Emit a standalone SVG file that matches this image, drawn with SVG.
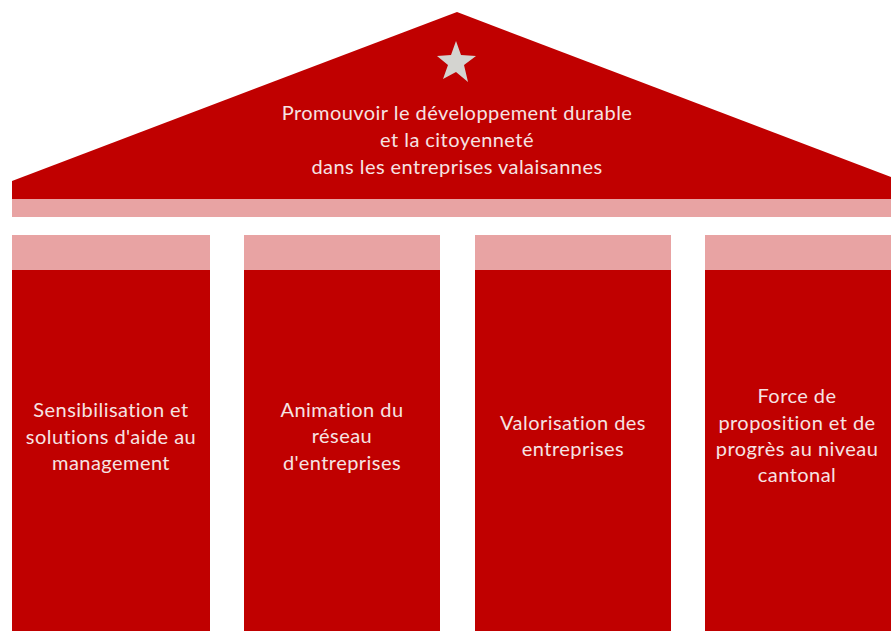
<svg xmlns="http://www.w3.org/2000/svg" width="891" height="631" viewBox="0 0 891 631">
<style>
.red{fill:#C00000}
.light{fill:#E8A3A3}
.t{font-family:Lato,"Open Sans",sans-serif;font-size:20px;letter-spacing:0.45px;fill:#F6E3E3;text-anchor:middle}
</style>
<rect width="891" height="631" fill="#FFFFFF"/>
<g id="roof">
<polygon class="red" points="12,181 457,12 891,177 891,199 12,199"/>
<rect class="light" x="12" y="199" width="879" height="18"/>
<polygon fill="#D4D4D0" points="456,41 461,55 476,56 464,65 468,82 456,72 443,79 448,65 437,56 451,55"/>
<text class="t"><tspan x="457" y="120">Promouvoir le développement durable</tspan><tspan x="457" y="147">et la citoyenneté</tspan><tspan x="457" y="174">dans les entreprises valaisannes</tspan></text>
</g>
<g id="pillar1">
<rect class="light" x="12" y="235" width="198" height="35"/>
<rect class="red" x="12" y="270" width="198" height="361"/>
<text class="t"><tspan x="111" y="417">Sensibilisation et</tspan><tspan x="111" y="444">solutions d'aide au</tspan><tspan x="111" y="470">management</tspan></text>
</g>
<g id="pillar2">
<rect class="light" x="244" y="235" width="196" height="35"/>
<rect class="red" x="244" y="270" width="196" height="361"/>
<text class="t"><tspan x="342" y="417">Animation du</tspan><tspan x="342" y="443">réseau</tspan><tspan x="342" y="470">d'entreprises</tspan></text>
</g>
<g id="pillar3">
<rect class="light" x="475" y="235" width="196" height="35"/>
<rect class="red" x="475" y="270" width="196" height="361"/>
<text class="t"><tspan x="573" y="430">Valorisation des</tspan><tspan x="573" y="456">entreprises</tspan></text>
</g>
<g id="pillar4">
<rect class="light" x="705" y="235" width="186" height="35"/>
<rect class="red" x="705" y="270" width="186" height="361"/>
<text class="t"><tspan x="797" y="403">Force de</tspan><tspan x="797" y="430">proposition et de</tspan><tspan x="797" y="456">progrès au niveau</tspan><tspan x="797" y="482">cantonal</tspan></text>
</g>
<g id="connectors"/>
</svg>
